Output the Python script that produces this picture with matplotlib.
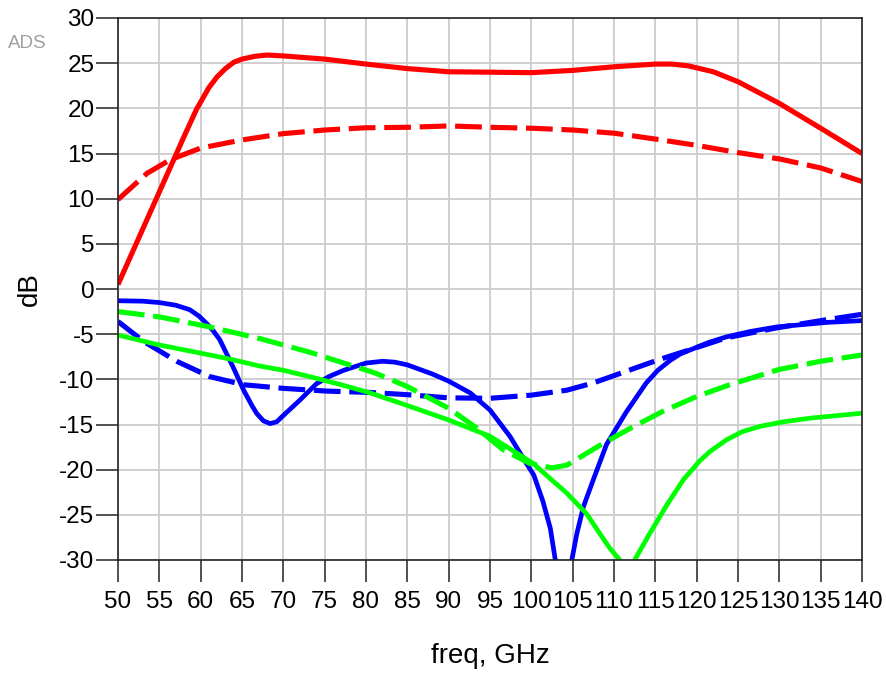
import matplotlib
matplotlib.use("Agg")
import matplotlib.pyplot as plt

plt.rcParams['font.family'] = ['Liberation Sans', 'DejaVu Sans']

# ---- data (freq in GHz, values in dB) ----
red_solid_f = [50, 52, 54, 56, 58, 59.5, 61, 62, 63, 64, 65, 66.5, 68, 70, 75, 80, 85,
               90, 95, 100, 105, 110, 115, 117, 119, 122, 125, 130, 135, 140]
red_solid_db = [0.5, 4.6, 8.7, 12.8, 16.9, 19.9, 22.3, 23.5, 24.4, 25.1, 25.45, 25.75,
                25.9, 25.8, 25.45, 24.9, 24.4, 24.05, 24.0, 23.95, 24.2, 24.6, 24.9,
                24.9, 24.7, 24.05, 22.95, 20.55, 17.8, 15.0]

red_dash_f = [50, 53.5, 56.3, 60, 65, 70, 75, 80, 85, 90, 95, 100, 105, 110, 115,
              120, 125, 130, 135, 140]
red_dash_db = [9.9, 12.8, 14.3, 15.6, 16.5, 17.2, 17.6, 17.85, 17.9, 18.05, 17.9,
               17.8, 17.6, 17.25, 16.6, 15.9, 15.1, 14.4, 13.4, 11.9]

blue_solid_f = [50, 53, 55, 57, 58.7, 59.8, 60.7, 61.5, 62.3, 63.9, 65.2, 66.2, 66.8,
                67.6, 68.4, 69.2, 70, 72, 74, 75.5, 77.3, 80, 82, 83.5, 85, 88, 90,
                92.6, 95, 97.4, 99.4, 100.3, 101.4, 102.3, 102.9, 103.9, 104.9, 105.5,
                106.3, 107.5, 109.1, 111.5, 113.9, 115.3, 116.8, 118, 119.6, 121.5,
                123.6, 126.5, 129.7, 135.7, 140]
blue_solid_db = [-1.3, -1.35, -1.5, -1.8, -2.3, -3.0, -3.8, -4.6, -5.6, -8.6, -11.2,
                 -12.9, -13.8, -14.6, -14.9, -14.7, -14.0, -12.3, -10.5, -9.7, -9.0,
                 -8.2, -8.0, -8.1, -8.4, -9.4, -10.2, -11.5, -13.4, -16.3, -19.3,
                 -20.6, -23.5, -26.5, -30.0, -40.0, -30.0, -27.1, -24.1, -21.1, -17.2,
                 -13.6, -10.4, -9.0, -7.9, -7.2, -6.6, -5.9, -5.3, -4.7, -4.2, -3.7,
                 -3.5]

blue_dash_f = [50, 53.1, 57.1, 61.1, 65.2, 70, 75.2, 80.5, 85, 90, 95, 100, 104.3,
               107.5, 111.5, 115.5, 119.6, 123.6, 129.7, 135.7, 140]
blue_dash_db = [-3.6, -5.8, -8.0, -9.7, -10.6, -11.0, -11.3, -11.45, -11.7, -12.05,
                -12.1, -11.75, -11.2, -10.4, -9.1, -7.8, -6.6, -5.4, -4.3, -3.4, -2.8]

green_solid_f = [50, 55, 60, 63.5, 67, 70, 73.2, 77, 80.5, 85, 90, 95, 100.2, 102.3,
                 104.3, 106.7, 108.3, 109.5, 110.7, 111.6, 112.5, 114.3, 116.4, 118.4,
                 120.4, 121.6, 123.6, 125.5, 127.7, 130.5, 133.7, 140]
green_solid_db = [-5.1, -6.2, -7.1, -7.75, -8.5, -9.0, -9.7, -10.6, -11.5, -12.9,
                  -14.5, -16.3, -19.3, -21.0, -22.6, -24.9, -27.1, -28.7, -30.0,
                  -33.0, -30.0, -27.1, -23.9, -21.1, -19.0, -18.0, -16.7, -15.8,
                  -15.2, -14.7, -14.3, -13.75]

green_dash_f = [50, 55.1, 61.1, 67.2, 73.2, 78, 81.1, 85, 90, 93.4, 96.6, 99.8,
                102.5, 104.3, 108.3, 112, 116, 120, 124, 130, 135, 140]
green_dash_db = [-2.5, -3.1, -4.2, -5.5, -7.0, -8.4, -9.3, -10.8, -13.2, -15.4,
                 -17.8, -19.3, -19.8, -19.5, -17.3, -15.4, -13.5, -11.9, -10.6,
                 -8.9, -8.0, -7.3]

x_ticks = list(range(50, 141, 5))
y_ticks = list(range(-30, 31, 5))

# ---- figure ----
fig = plt.figure(figsize=(8.86, 6.77), dpi=100)
ax = fig.add_axes([118 / 886, 1 - 560 / 677, (862 - 118) / 886, (560 - 18) / 677])

lw = 3.7
dash = (0, (5.2, 1.7))
ax.plot(red_solid_f, red_solid_db, color='#FF0000', lw=lw, solid_capstyle='butt')
ax.plot(red_dash_f, red_dash_db, color='#FF0000', lw=lw, linestyle=dash)
ax.plot(blue_solid_f, blue_solid_db, color='#0000FF', lw=lw * 0.92, solid_capstyle='butt')
ax.plot(blue_dash_f, blue_dash_db, color='#0000FF', lw=lw, linestyle=dash)
ax.plot(green_solid_f, green_solid_db, color='#00FF00', lw=lw * 0.92, solid_capstyle='butt')
ax.plot(green_dash_f, green_dash_db, color='#00FF00', lw=lw, linestyle=dash)

ax.set_xlim(50, 140)
ax.set_ylim(-30, 30)
ax.set_xticks(x_ticks)
ax.set_yticks(y_ticks)
ax.set_xticklabels([str(v) for v in x_ticks], fontsize=17.5)
ax.set_yticklabels([str(v) for v in y_ticks], fontsize=17.5)
ax.tick_params(axis='x', direction='out', length=16, width=1.1, color='#222222', pad=6)
ax.tick_params(axis='y', direction='out', length=16, width=1.1, color='#222222', pad=1)

ax.grid(True, color='#cccccc', linewidth=1.3)
ax.set_axisbelow(True)
for s in ax.spines.values():
    s.set_color('#222222')
    s.set_linewidth(1.2)

ax.set_xlabel('freq, GHz', fontsize=20, labelpad=22)
ax.set_ylabel('dB', fontsize=20, labelpad=12)

fig.text(8 / 886, 1 - 48 / 677, 'ADS', fontsize=13.5, color='#a0a0a0', ha='left', va='baseline')

fig.savefig('out.png', dpi=100)
